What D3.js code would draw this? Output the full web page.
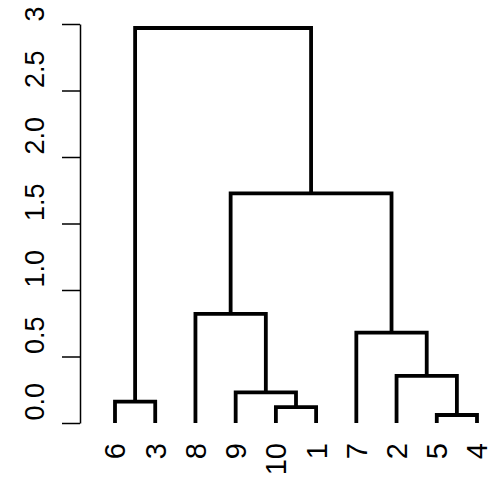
<!DOCTYPE html>
<html>
<head>
<meta charset="utf-8">
<script src="https://cdn.jsdelivr.net/npm/d3@7"></script>
<style>
  html, body { margin: 0; padding: 0; background: #fff; }
  svg text { font-family: "Liberation Sans", Arial, sans-serif; fill: #000; }
</style>
</head>
<body>
<svg id="chart" width="497" height="478"></svg>
<script>
// Hierarchical clustering result in hclust style:
// negative entries are observations, positive entries refer to earlier merge steps.
const mergeLeft   = [-5, -10, -6, -9, -2, -7, -8, 7, 3];
const mergeRight  = [-4,  -1, -3,  2,  1,  5,  4, 6, 8];
const mergeHeight = [0.06, 0.12, 0.16, 0.23, 0.355, 0.68, 0.82, 1.727, 2.97];

const yTickValues = [0, 0.5, 1, 1.5, 2, 2.5, 3];
const yTickLabels = ["0.0", "0.5", "1.0", "1.5", "2.0", "2.5", "3"];

// Build a nested tree from the merge table
function buildNode(ref) {
  if (ref < 0) return { label: String(-ref), height: 0 };
  const i = ref - 1;
  return {
    height: mergeHeight[i],
    children: [buildNode(mergeLeft[i]), buildNode(mergeRight[i])]
  };
}
const root = d3.hierarchy(buildNode(mergeHeight.length));

const svg = d3.select("#chart");

const leaves = root.leaves();
const x = d3.scalePoint()
  .domain(leaves.map(d => d.data.label))
  .range([115, 477]);
const y = d3.scaleLinear().domain([0, 3]).range([423, 24]);

// Leaf positions, then each merge sits midway above its two children
root.eachAfter(n => {
  if (!n.children) n.px = x(n.data.label);
  else n.px = (n.children[0].px + n.children[1].px) / 2;
  n.py = y(n.data.height);
});

// Dendrogram: one bracket per merge
svg.append("g")
  .selectAll("path")
  .data(root.descendants().filter(n => n.children))
  .join("path")
  .attr("d", n => {
    const [a, b] = n.children;
    return `M${a.px},${a.py}V${n.py}H${b.px}V${b.py}`;
  })
  .attr("fill", "none")
  .attr("stroke", "#000")
  .attr("stroke-width", 3.8)
  .attr("stroke-linejoin", "miter")
  .attr("stroke-linecap", "butt");

// Height axis
const yAxis = d3.axisLeft(y)
  .tickValues(yTickValues)
  .tickFormat((d, i) => yTickLabels[i])
  .tickSize(18)
  .tickSizeOuter(0);

const gy = svg.append("g")
  .attr("transform", "translate(80,0)")
  .call(yAxis);
gy.select(".domain").attr("stroke", "#000").attr("stroke-width", 1.5);
gy.selectAll(".tick line").attr("stroke", "#000").attr("stroke-width", 1.5);
gy.selectAll(".tick text")
  .attr("x", null).attr("dy", null)
  .attr("transform", "translate(-36,-3) rotate(-90)")
  .attr("text-anchor", "start")
  .attr("font-size", 27)
  .attr("font-family", "Liberation Sans, Arial, sans-serif");

// Leaf labels, perpendicular to the bottom edge
svg.append("g")
  .selectAll("text")
  .data(leaves)
  .join("text")
  .attr("transform", d => `translate(${d.px},443) rotate(-90)`)
  .attr("text-anchor", "end")
  .attr("dy", "0.36em")
  .attr("font-size", 29)
  .text(d => d.data.label);
</script>
</body>
</html>
